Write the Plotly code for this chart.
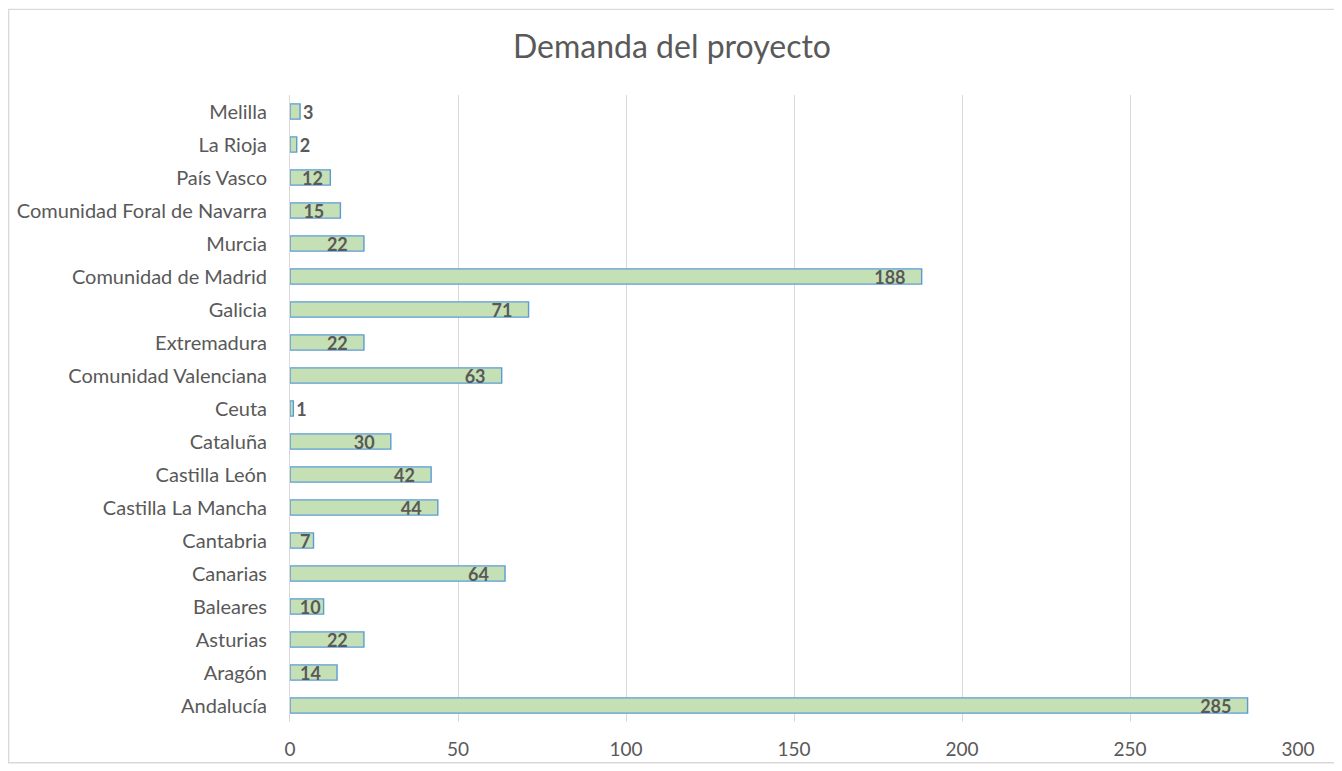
import plotly.graph_objects as go

categories = ["Andalucía", "Aragón", "Asturias", "Baleares", "Canarias", "Cantabria",
              "Castilla La Mancha", "Castilla León", "Cataluña", "Ceuta",
              "Comunidad Valenciana", "Extremadura", "Galicia", "Comunidad de Madrid",
              "Murcia", "Comunidad Foral de Navarra", "País Vasco", "La Rioja", "Melilla"]
values = [285, 14, 22, 10, 64, 7, 44, 42, 30, 1, 63, 22, 71, 188, 22, 15, 12, 2, 3]
x_ticks = [0, 50, 100, 150, 200, 250, 300]
title = "Demanda del proyecto"

# page body has an 8px margin; figure is laid out to compensate
OFF = 8
W, H = 1328, 756
L = 290 - OFF
T = 94.5 - OFF
R = W - (1298 - OFF)
B = H - (722.5 - OFF)
PW, PH = W - L - R, H - T - B

FONT = "Lato"
NB = "\u00a0"


def pad(v):
    return 3 if v >= 14 else (1 if v >= 12 else 0)


positions = ["outside" if v < 5 else "inside" for v in values]
labels = [str(v) + NB * pad(v) if v >= 5 else str(v) for v in values]
vfont = dict(family=FONT, size=18, color="#595959", weight="bold")

fig = go.Figure(go.Bar(
    x=values, y=categories, orientation="h",
    marker=dict(color="#C5E0B4", line=dict(color="#5B9BD5", width=1.4)),
    text=labels, textposition=positions, textangle=0,
    insidetextanchor="end", constraintext="none", cliponaxis=False,
    textfont=vfont, outsidetextfont=vfont, insidetextfont=vfont,
    hovertext=[str(v) for v in values], hoverinfo="y+text",
))

fig.update_layout(
    width=W, height=H, autosize=False,
    margin=dict(l=L, r=R, t=T, b=B, autoexpand=False),
    paper_bgcolor="white", plot_bgcolor="white",
    bargap=0.54, showlegend=False,
    font=dict(family=FONT, size=20, color="#595959"),
    title=dict(text=title, x=0.5, xref="container", xanchor="center",
               y=1 - (47 - OFF) / H, yref="container", yanchor="middle",
               font=dict(family=FONT, size=32, color="#595959")),
    xaxis=dict(range=[0, 300], tickvals=x_ticks, showgrid=True, gridcolor="#D9D9D9",
               gridwidth=1, zeroline=False, showline=False, ticks="", automargin=False,
               ticklabelstandoff=14, tickfont=dict(family=FONT, size=19, color="#595959")),
    yaxis=dict(categoryorder="array", categoryarray=categories, showgrid=False,
               showline=True, linecolor="#D9D9D9", linewidth=1, ticks="", automargin=False,
               ticklabelstandoff=18, tickfont=dict(family=FONT, size=20, color="#595959")),
    shapes=[dict(type="rect", xref="paper", yref="paper",
                 x0=-(L - 0.7) / PW, x1=1 + (R - 0.7) / PW,
                 y0=-(B - 0.7) / PH, y1=1 + (T - 0.7) / PH,
                 line=dict(color="#D9D9D9", width=1.3), fillcolor="rgba(0,0,0,0)",
                 layer="below")],
)

fig.write_html("out.html")
